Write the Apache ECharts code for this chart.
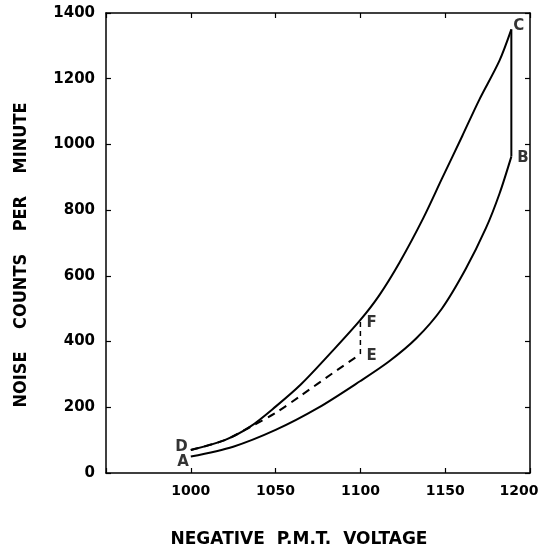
<!DOCTYPE html>
<html>
<head>
<meta charset="utf-8">
<script src="https://cdn.jsdelivr.net/npm/echarts@6/dist/echarts.min.js"></script>
<style>
  html, body { margin: 0; padding: 0; background: #fff; }
  #main { width: 540px; height: 549px; }
</style>
</head>
<body>
<div id="main"></div>
<script>
// values: volts (negative PMT voltage) vs noise counts per minute

// upper curve D -> F -> C
var voltsUpper  = [1000, 1020, 1035, 1050, 1065, 1084, 1100, 1111, 1123, 1137, 1148, 1160, 1170, 1182, 1189];
var countsUpper = [70, 100, 141, 202, 270, 374, 466, 540, 640, 775, 895, 1025, 1135, 1255, 1350];

// lower curve A -> B
var voltsLower  = [1000, 1025, 1050, 1075, 1100, 1117, 1133, 1148, 1162, 1174, 1182, 1189];
var countsLower = [50, 80, 131, 198, 280, 340, 410, 500, 620, 745, 850, 963];

// dashed curve D -> E
var voltsDash  = [1000, 1020, 1035, 1050, 1065, 1084, 1100];
var countsDash = [70, 100, 140, 183, 236, 305, 362];

var xTicks = [950, 1000, 1050, 1100, 1150, 1200];
var yTicks = [0, 200, 400, 600, 800, 1000, 1200, 1400];

var fIndex = voltsUpper.indexOf(1100);

function pairs(xs, ys) {
    var out = [];
    for (var i = 0; i < xs.length; i++) out.push([xs[i], ys[i]]);
    return out;
}

var last = function (a) { return a[a.length - 1]; };

var myChart = echarts.init(document.getElementById('main'));

var lblFont = {
    color: '#000',
    fontFamily: 'DejaVu Sans',
    fontWeight: 'bold',
    fontSize: 15
};

function pointItem(name, x, y, pos, off) {
    return {
        name: name,
        value: [x, y],
        label: Object.assign({show: true, position: pos, offset: off, formatter: '{b}'}, lblFont)
    };
}

var frameAxis = {
    axisLine: {show: true, onZero: false, lineStyle: {color: '#000', width: 1.5}},
    axisTick: {show: true, inside: true, length: 5, lineStyle: {color: '#000', width: 1.2}},
    axisLabel: {show: false},
    splitLine: {show: false}
};

option = {
    backgroundColor: '#fff',
    animation: false,
    grid: {left: 106, right: 10, top: 13, bottom: 76, outerBoundsMode: 'none', containLabel: false},
    xAxis: [
        {
            type: 'value',
            min: xTicks[0],
            max: last(xTicks),
            interval: 50,
            position: 'bottom',
            name: 'NEGATIVE  P.M.T.  VOLTAGE',
            nameLocation: 'middle',
            nameGap: 58,
            nameTextStyle: {
                color: '#000',
                fontFamily: 'DejaVu Sans',
                fontWeight: 'bold',
                fontSize: 17,
                padding: [0, 38, 0, 0]
            },
            axisLine: {onZero: false, lineStyle: {color: '#000', width: 1.5}},
            axisTick: {inside: true, length: 5, lineStyle: {color: '#000', width: 1.2}},
            axisLabel: {
                color: '#000',
                fontFamily: 'DejaVu Sans',
                fontWeight: 'bold',
                fontSize: 14,
                margin: 11,
                formatter: function (v) {
                    if (v === xTicks[0]) return '';
                    // last label sits a little left of its tick, as in the figure
                    if (v === last(xTicks)) return '{m|' + v + '}';
                    return String(v);
                },
                rich: {
                    m: {
                        color: '#000',
                        fontFamily: 'DejaVu Sans',
                        fontWeight: 'bold',
                        fontSize: 14,
                        padding: [0, 22, 0, 0]
                    }
                }
            },
            splitLine: {show: false}
        },
        Object.assign({type: 'value', min: xTicks[0], max: last(xTicks), interval: 50, position: 'top'}, frameAxis)
    ],
    yAxis: [
        {
            type: 'value',
            min: yTicks[0],
            max: last(yTicks),
            interval: 200,
            position: 'left',
            name: 'NOISE    COUNTS    PER    MINUTE',
            nameLocation: 'middle',
            nameGap: 76,
            nameTextStyle: {
                color: '#000',
                fontFamily: 'DejaVu Sans Condensed',
                fontWeight: 'bold',
                fontSize: 18,
                padding: [0, 24, 0, 0]
            },
            axisLine: {show: true, onZero: false, lineStyle: {color: '#000', width: 1.5}},
            axisTick: {show: true, inside: true, length: 5, lineStyle: {color: '#000', width: 1.2}},
            axisLabel: {
                color: '#000',
                fontFamily: 'DejaVu Sans',
                fontWeight: 'bold',
                fontSize: 15,
                margin: 11,
                formatter: function (v) { return String(v); }
            },
            splitLine: {show: false}
        },
        Object.assign({type: 'value', min: yTicks[0], max: last(yTicks), interval: 200, position: 'right'}, frameAxis)
    ],
    series: [
        {
            name: 'upper',
            type: 'line',
            smooth: 0.3,
            symbol: 'none',
            lineStyle: {color: '#000', width: 2},
            data: pairs(voltsUpper, countsUpper)
        },
        {
            name: 'lower',
            type: 'line',
            smooth: 0.3,
            symbol: 'none',
            lineStyle: {color: '#000', width: 2},
            data: pairs(voltsLower, countsLower)
        },
        {
            name: 'dashed',
            type: 'line',
            smooth: 0.3,
            symbol: 'none',
            lineStyle: {color: '#000', width: 2, type: [8, 6]},
            data: pairs(voltsDash, countsDash)
        },
        {
            // E -> F
            name: 'EF',
            type: 'line',
            symbol: 'none',
            lineStyle: {color: '#000', width: 1.5, type: [5, 4]},
            data: [[last(voltsDash), last(countsDash)], [voltsUpper[fIndex], countsUpper[fIndex]]]
        },
        {
            // C -> B
            name: 'CB',
            type: 'line',
            symbol: 'none',
            lineStyle: {color: '#000', width: 2},
            data: [[last(voltsUpper), last(countsUpper)], [last(voltsLower), last(countsLower)]]
        },
        {
            name: 'points',
            type: 'scatter',
            symbolSize: 0,
            silent: true,
            data: [
                pointItem('A', voltsLower[0], countsLower[0], 'left', [3, 6]),
                pointItem('D', voltsUpper[0], countsUpper[0], 'left', [2, -3]),
                pointItem('E', last(voltsDash), last(countsDash), 'right', [1, 2]),
                pointItem('F', voltsUpper[fIndex], countsUpper[fIndex], 'right', [1, 3]),
                pointItem('C', last(voltsUpper), last(countsUpper), 'right', [-3, -3]),
                pointItem('B', last(voltsLower), last(countsLower), 'right', [1, 2])
            ]
        }
    ]
};

myChart.setOption(option);
</script>
</body>
</html>
